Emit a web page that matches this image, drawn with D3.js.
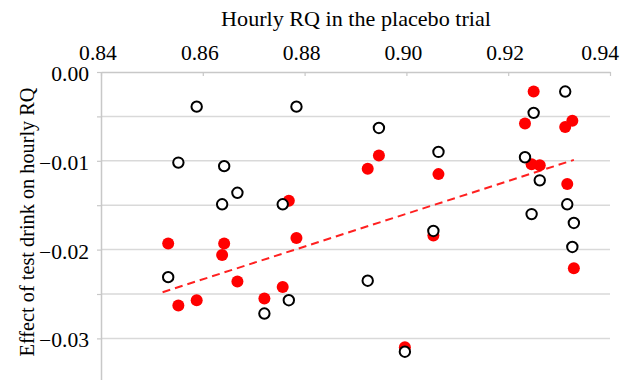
<!DOCTYPE html>
<html>
<head>
<meta charset="utf-8">
<script src="https://cdn.jsdelivr.net/npm/d3@7"></script>
<style>
  html, body { margin: 0; padding: 0; background: #fff; }
  svg { display: block; }
  text { font-family: "Liberation Serif", "Times New Roman", serif; fill: #000; }
</style>
</head>
<body>
<script>
// ---- data ----
const placeboRQ = [0.8532, 0.8552, 0.8588, 0.8638, 0.8642, 0.8668, 0.8721, 0.8757, 0.8769, 0.8784,
                   0.8924, 0.8946, 0.8997, 0.9053, 0.9063, 0.9233, 0.9246, 0.9250, 0.9262, 0.9312,
                   0.9316, 0.9326, 0.9329];
const effectOpen = [-0.0231, -0.0102, -0.0039, -0.0149, -0.0106, -0.0136, -0.0272, -0.0149, -0.0257, -0.0039,
                    -0.0235, -0.0063, -0.0315, -0.0179, -0.0090, -0.0096, -0.0160, -0.0046, -0.0122, -0.0022,
                    -0.0149, -0.0197, -0.0170];
const effectFilled = [-0.0193, -0.0263, -0.0257, -0.0206, -0.0193, -0.0236, -0.0255, -0.0242, -0.0145, -0.0187,
                      -0.0109, -0.0094, -0.0310, -0.0184, -0.0115, -0.0058, -0.0104, -0.0022, -0.0105, -0.0062,
                      -0.0126, -0.0055, -0.0221];
const trendX = [0.8521, 0.9329];
const trendY = [-0.0248, -0.0099];
const xTicks = [0.84, 0.86, 0.88, 0.90, 0.92, 0.94];
const yGrid = [0, -0.005, -0.01, -0.015, -0.02, -0.025, -0.03];
const yTickLabels = [0, -0.01, -0.02, -0.03];
const xTitle = "Hourly RQ in the placebo trial";
const yTitle = "Effect of test drink on hourly RQ";

// ---- layout ----
const W = 621, H = 380;
const plotLeft = 101, plotRight = 610, plotTop = 72;
const SX = 1.08; // horizontal glyph stretch

const svg = d3.select("body").append("svg").attr("width", W).attr("height", H);

const x = d3.scaleLinear().domain([0.84, 0.94]).range([plotLeft, plotRight]);
const y = d3.scaleLinear().domain([0, -0.035]).range([plotTop, plotTop + 0.035 * 8880]);

// gridlines
svg.append("g").selectAll("line").data(yGrid.filter(d => d !== 0)).join("line")
  .attr("x1", plotLeft).attr("x2", plotRight)
  .attr("y1", d => y(d)).attr("y2", d => y(d))
  .attr("stroke", "#d9d9d9").attr("stroke-width", 1.5);

// top axis (inside ticks)
const xAxis = d3.axisTop(x).tickValues(xTicks).tickSize(-4).tickSizeOuter(0).tickFormat("");
const gx = svg.append("g").attr("transform", `translate(0,${plotTop})`).call(xAxis);
gx.select(".domain").attr("stroke", "#c8c8c8").attr("stroke-width", 1.5);
gx.selectAll(".tick line").attr("stroke", "#c8c8c8").attr("stroke-width", 1.2);

// left axis (outside ticks)
const yAxis = d3.axisLeft(y).tickValues(yGrid).tickSize(4).tickSizeOuter(0).tickFormat("");
const gy = svg.append("g").attr("transform", `translate(${plotLeft},0)`).call(yAxis);
gy.select(".domain").attr("stroke", "#c8c8c8").attr("stroke-width", 1.5);
gy.selectAll(".tick line").attr("stroke", "#c8c8c8").attr("stroke-width", 1.2);

// x tick labels (last one kept inside the frame)
const lastTick = xTicks[xTicks.length - 1];
svg.append("g").selectAll("text").data(xTicks).join("text")
  .attr("transform", d => d === lastTick
      ? `translate(${W - 2},60) scale(${SX},1)`
      : `translate(${x(d) - 3},60) scale(${SX},1)`)
  .attr("text-anchor", d => d === lastTick ? "end" : "middle")
  .attr("font-size", 20)
  .text(d => d3.format(".2f")(d));

// y tick labels
svg.append("g").selectAll("text").data(yTickLabels).join("text")
  .attr("transform", d => `translate(89,${y(d) + 2}) scale(${SX},1)`)
  .attr("text-anchor", "end")
  .attr("dy", "0.35em")
  .attr("font-size", 20)
  .text(d => d === 0 ? "0.00" : d3.format(".2f")(d));

// titles
svg.append("text")
  .attr("transform", `translate(356,26) scale(${SX},1)`)
  .attr("text-anchor", "middle").attr("font-size", 20.5)
  .text(xTitle);
svg.append("text")
  .attr("transform", `translate(33.5,222) scale(${SX},1) rotate(-90)`)
  .attr("text-anchor", "middle").attr("font-size", 20.3)
  .text(yTitle);

// trend line
svg.append("line")
  .attr("x1", x(trendX[0])).attr("y1", y(trendY[0]))
  .attr("x2", x(trendX[1])).attr("y2", y(trendY[1]))
  .attr("stroke", "#ff2020").attr("stroke-width", 2)
  .attr("stroke-dasharray", "8,5");

// filled (red) points
svg.append("g").selectAll("circle").data(placeboRQ).join("circle")
  .attr("cx", d => x(d)).attr("cy", (d, i) => y(effectFilled[i]))
  .attr("r", 6).attr("fill", "#ff0000");

// open points
svg.append("g").selectAll("circle").data(placeboRQ).join("circle")
  .attr("cx", d => x(d)).attr("cy", (d, i) => y(effectOpen[i]))
  .attr("r", 5.2).attr("fill", "#fff").attr("stroke", "#000").attr("stroke-width", 2);
</script>
</body>
</html>
